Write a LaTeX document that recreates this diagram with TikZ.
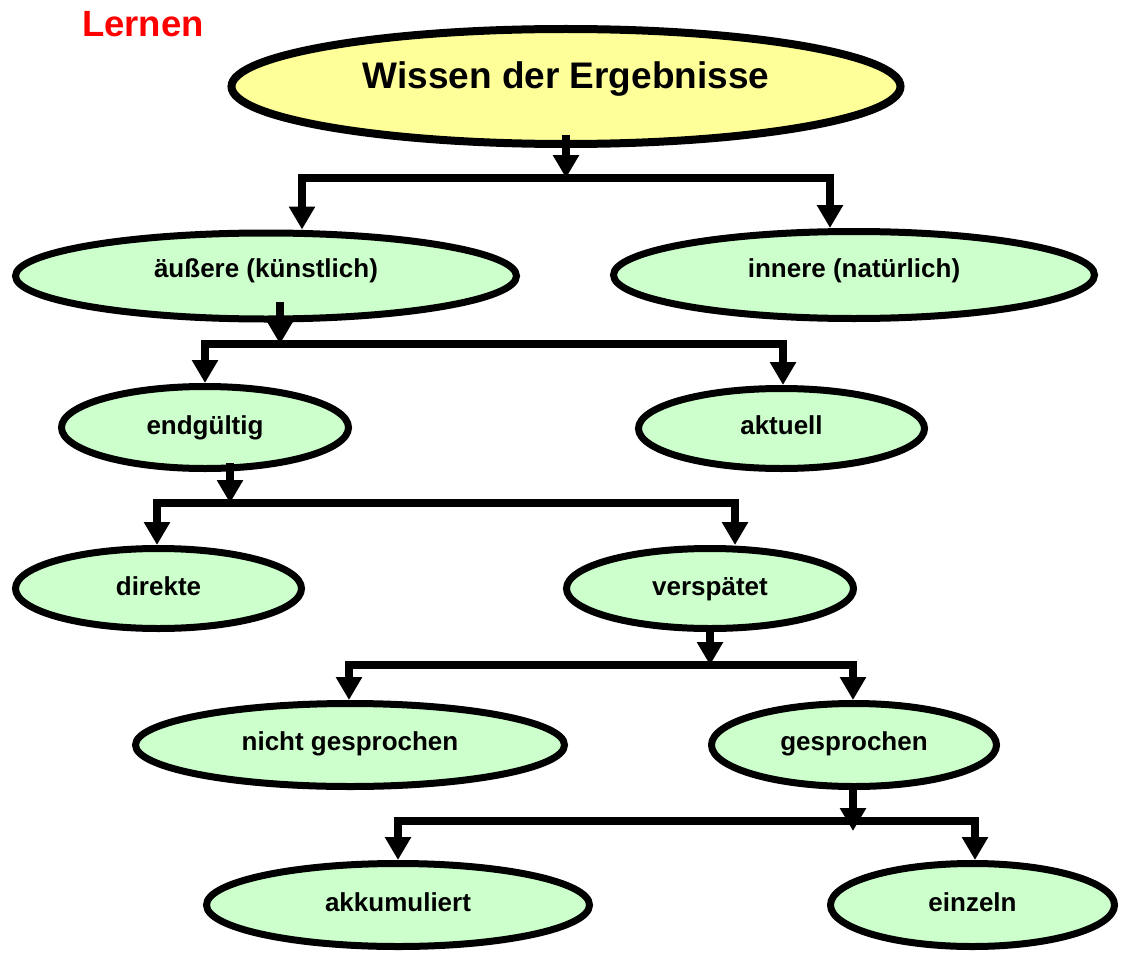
\documentclass[tikz,border=0pt]{standalone}
\usepackage{fontspec}
\setmainfont{Liberation Sans}
\usetikzlibrary{shapes.geometric,arrows.meta}
\definecolor{bubblegreen}{HTML}{CCFFCC}
\definecolor{rootyellow}{HTML}{FFFF99}
\begin{document}
\begin{tikzpicture}[x=1pt,y=-1pt,
  bubble/.style={ellipse, draw=black, line width=7pt, fill=bubblegreen, inner sep=0pt},
  rootbubble/.style={bubble, line width=8pt, fill=rootyellow},
  lbl/.style={font=\fontsize{26}{30}\selectfont\bfseries, anchor=base, inner sep=0pt},
  bar/.style={line width=8pt, line cap=rect},
  arr/.style={line width=8pt, -{Triangle[width=25pt,length=23pt]}}]
\useasboundingbox (0,0) rectangle (1124,963);

% title
\node[font=\fontsize{36.5}{40}\selectfont\bfseries, text=red, anchor=base, inner sep=0pt]
  (title) at (143,37) {Lernen};

% root
\node[rootbubble, minimum width=669pt, minimum height=115pt] (root) at (566,86.5) {};
\node[lbl, font=\fontsize{37}{42}\selectfont\bfseries] (rootlbl) at (566,89) {Wissen der Ergebnisse};

% level 1
\node[bubble, minimum width=501pt, minimum height=86pt] (aus) at (266,276) {};
\node[lbl] (auslbl) at (266,277) {äußere (künstlich)};
\node[bubble, minimum width=481pt, minimum height=87pt] (inn) at (854,275) {};
\node[lbl] (innlbl) at (854,277) {innere (natürlich)};

% level 2
\node[bubble, minimum width=287pt, minimum height=82pt] (end) at (205,427.5) {};
\node[lbl] (endlbl) at (205,434) {endgültig};
\node[bubble, minimum width=286pt, minimum height=80pt] (akt) at (781.5,428.5) {};
\node[lbl] (aktlbl) at (781.5,434) {aktuell};

% level 3
\node[bubble, minimum width=286pt, minimum height=80pt] (dir) at (158.5,588.5) {};
\node[lbl] (dirlbl) at (158.5,595) {direkte};
\node[bubble, minimum width=287pt, minimum height=80pt] (ver) at (710,588.5) {};
\node[lbl] (verlbl) at (710,595) {verspätet};

% level 4
\node[bubble, minimum width=429pt, minimum height=83pt] (nge) at (350,745) {};
\node[lbl] (ngelbl) at (350,750) {nicht gesprochen};
\node[bubble, minimum width=285pt, minimum height=83pt] (ges) at (854,745) {};
\node[lbl] (geslbl) at (854,750) {gesprochen};

% level 5
\node[bubble, minimum width=383pt, minimum height=83pt] (akk) at (398,905) {};
\node[lbl] (akklbl) at (398,911) {akkumuliert};
\node[bubble, minimum width=284pt, minimum height=83pt] (ein) at (972.5,905) {};
\node[lbl] (einlbl) at (972.5,911) {einzeln};

% branch points
\coordinate (s0) at (566,135);  \coordinate (j0) at (566,178);
\coordinate (j0l) at (302,178); \coordinate (j0r) at (830,178);
\coordinate (s1) at (280,302);  \coordinate (j1) at (280,344);
\coordinate (j1l) at (205,344); \coordinate (j1r) at (783,344);
\coordinate (s2) at (230,463);  \coordinate (j2) at (230,503);
\coordinate (j2l) at (157,503); \coordinate (j2r) at (735,503);
\coordinate (s3) at (710,625);  \coordinate (j3) at (710,665);
\coordinate (j3l) at (349,665); \coordinate (j3r) at (853,665);
\coordinate (s4) at (853,787);  \coordinate (j4) at (853,831);
\coordinate (j4l) at (398,821); \coordinate (j4r) at (975,821);

% root -> level 1
\draw[bar] (j0l) -- (j0r);
\draw[arr] (s0) -- (j0);
\draw[arr] (j0l) -- (aus.north -| j0l);
\draw[arr] (j0r) -- (inn.north -| j0r);

% level 1 -> level 2
\draw[bar] (j1l) -- (j1r);
\draw[arr] (s1) -- (j1);
\draw[arr] (j1l) -- (end.north -| j1l);
\draw[arr] (j1r) -- (akt.north -| j1r);

% level 2 -> level 3
\draw[bar] (j2l) -- (j2r);
\draw[arr] (s2) -- (j2);
\draw[arr] (j2l) -- (dir.north -| j2l);
\draw[arr] (j2r) -- (ver.north -| j2r);

% level 3 -> level 4
\draw[bar] (j3l) -- (j3r);
\draw[arr] (s3) -- (j3);
\draw[arr] (j3l) -- (nge.north -| j3l);
\draw[arr] (j3r) -- (ges.north -| j3r);

% level 4 -> level 5
\draw[bar] (j4l) -- (j4r);
\draw[arr] (s4) -- (j4);
\draw[arr] (j4l) -- (akk.north -| j4l);
\draw[arr] (j4r) -- (ein.north -| j4r);
\end{tikzpicture}
\end{document}
